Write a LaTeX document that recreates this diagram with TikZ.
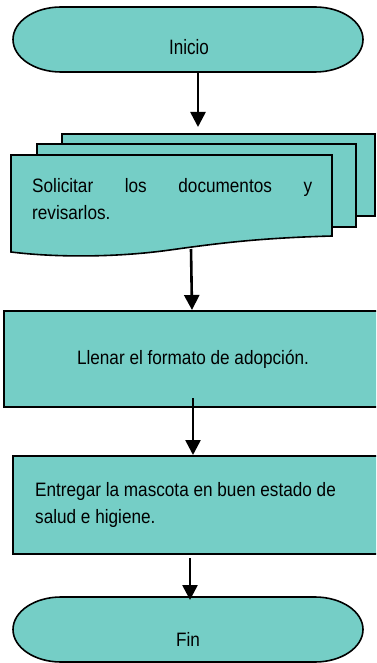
\documentclass[tikz,border=0pt]{standalone}
\usepackage{fontspec}
\setmainfont{Liberation Sans}
\newfontfamily\tallfont[FakeStretch=0.885]{Liberation Sans}
\newfontfamily\tallerfont[FakeStretch=0.82]{Liberation Sans}
\usetikzlibrary{arrows.meta}
\definecolor{flowfill}{RGB}{117,206,198}
\begin{document}
\begin{tikzpicture}[x=1pt,y=-1pt,
  shapestyle/.style={draw=black,line width=1.6pt,fill=flowfill},
  flowarrow/.style={line width=2.6pt,-{Triangle[length=15pt,width=15pt]}},
  label/.style={inner sep=0pt,font=\tallfont\fontsize{19.4}{26.5}\selectfont,text=black},
  termlabel/.style={inner sep=0pt,font=\tallerfont\fontsize{20.8}{26.5}\selectfont,text=black}]
\useasboundingbox (0,0) rectangle (376,663);
\clip (0,0) rectangle (376,663);
\fill[white] (0,0) rectangle (376,663);
% Inicio terminator
\draw[shapestyle] (61,7) -- (315,7) arc[start angle=-90,end angle=90,x radius=48,y radius=32.5]
  -- (61,72) arc[start angle=90,end angle=270,x radius=48,y radius=32.5] -- cycle;
\node[termlabel,anchor=base] (inicio) at (189,55) {Inicio};
% multi-document
\draw[shapestyle] (62,134) rectangle (375,216);
\draw[shapestyle] (37,144) rectangle (356,227);
\draw[shapestyle] (11,155) -- (332,155) -- (332,236)
  .. controls (260,238) and (220,243) .. (170,250)
  .. controls (120,257) and (60,258) .. (11,252) -- cycle;
\node[label,anchor=base west,align=left] (solicitar) at (32,219)
  {\hbox to 280pt{Solicitar\hfil los\hfil documentos\hfil y}\\revisarlos.};
% Llenar box
\draw[shapestyle] (4,311) rectangle (390,407);
\node[label,anchor=base] (llenar) at (193,364) {Llenar el formato de adopción.};
% Entregar box
\draw[shapestyle] (13,456) rectangle (390,554);
\node[label,anchor=base west,align=left] (entregar) at (35,523)
  {Entregar la mascota en buen estado de\\salud e higiene.};
% Fin terminator
\draw[shapestyle] (61,597) -- (315,597) arc[start angle=-90,end angle=90,x radius=48,y radius=32.5]
  -- (61,662) arc[start angle=90,end angle=270,x radius=48,y radius=32.5] -- cycle;
\node[label,anchor=base] (fin) at (188,646) {Fin};
% connector coordinates
\coordinate (a1s) at (198,72);
\coordinate (a1e) at (198,127);
\coordinate (a2s) at (191,249);
\coordinate (a2e) at (192,310);
\coordinate (a3s) at (193,398);
\coordinate (a3e) at (193,455);
\coordinate (a4s) at (190,558);
\coordinate (a4e) at (190,600);
\draw[flowarrow] (a1s) -- (a1e);
\draw[flowarrow] (a2s) -- (a2e);
\draw[flowarrow] (a3s) -- (a3e);
\draw[flowarrow] (a4s) -- (a4e);
\end{tikzpicture}
\end{document}
